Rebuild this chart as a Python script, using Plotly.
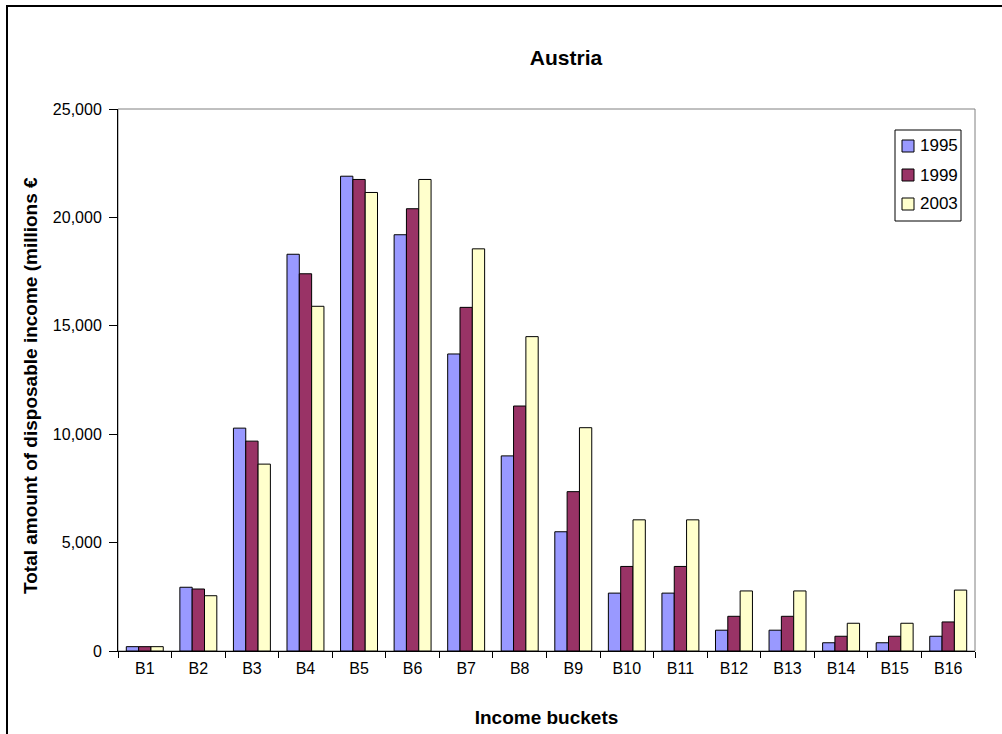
import plotly.graph_objects as go

categories = ["B1", "B2", "B3", "B4", "B5", "B6", "B7", "B8",
              "B9", "B10", "B11", "B12", "B13", "B14", "B15", "B16"]
v1995 = [200, 2940, 10280, 18300, 21900, 19200, 13700, 9000,
         5500, 2670, 2670, 960, 960, 380, 380, 680]
v1999 = [200, 2860, 9680, 17400, 21750, 20400, 15850, 11300,
         7350, 3900, 3900, 1600, 1600, 680, 680, 1340]
v2003 = [200, 2550, 8620, 15900, 21150, 21750, 18550, 14500,
         10300, 6050, 6050, 2770, 2770, 1280, 1280, 2810]
series = [("1995", v1995, "#9999FF"), ("1999", v1999, "#993366"), ("2003", v2003, "#FFFFCC")]

FONT = "Liberation Sans, Arial, sans-serif"

fig = go.Figure()
for name, vals, col in series:
    fig.add_trace(go.Bar(x=categories, y=vals, name=name, showlegend=False,
                         marker=dict(color=col, line=dict(color="black", width=1))))

L, R, T, B = 118, 27, 109, 83
W, H = 1002, 734
pw, ph = W - L - R, H - T - B

def px(x):
    return (x - L) / pw

def py(y):
    return (H - B - y) / ph

shapes = [
    dict(type="rect", xref="paper", yref="paper", x0=0, x1=1, y0=0, y1=1,
         line=dict(color="#808080", width=1), layer="below"),
    dict(type="rect", xref="paper", yref="paper", x0=px(7), x1=px(1010),
         y0=py(745), y1=py(6), line=dict(color="black", width=2), layer="below"),
    # legend box
    dict(type="rect", xref="paper", yref="paper", x0=px(895), x1=px(961),
         y0=py(221), y1=py(130), line=dict(color="black", width=1),
         fillcolor="white", layer="above"),
]
annotations = [
    dict(text="<b>Total amount of disposable income (millions €</b>",
         textangle=-90, xref="paper", yref="paper", x=px(30), y=py(386),
         xanchor="center", yanchor="middle", showarrow=False,
         font=dict(size=19, family=FONT)),
]
for i, (name, vals, col) in enumerate(series):
    yc = 146 + 29 * i
    shapes.append(dict(type="rect", xref="paper", yref="paper",
                       x0=px(902), x1=px(914), y0=py(yc + 6), y1=py(yc - 6),
                       line=dict(color="black", width=1), fillcolor=col, layer="above"))
    annotations.append(dict(text=name, xref="paper", yref="paper", x=px(918), y=py(yc),
                            xanchor="left", yanchor="middle", showarrow=False,
                            font=dict(size=17, family=FONT)))

fig.update_layout(
    width=W, height=H,
    margin=dict(l=L, r=R, t=T, b=B, autoexpand=False),
    paper_bgcolor="white", plot_bgcolor="white",
    font=dict(family=FONT, color="black"),
    barmode="group", bargap=0.31, bargroupgap=0,
    showlegend=False,
    title=dict(text="<b>Austria</b>", xref="container", x=566 / W, xanchor="center",
               yref="container", y=1 - 58 / H, yanchor="middle",
               font=dict(size=21, family=FONT)),
    xaxis=dict(type="category", tickson="boundaries", ticks="outside", ticklen=6,
               tickcolor="black", showline=True, linecolor="black", linewidth=1,
               showgrid=False, tickfont=dict(size=16, family=FONT),
               ticklabelstandoff=3,
               title=dict(text="<b>Income buckets</b>", font=dict(size=19, family=FONT),
                          standoff=34)),
    yaxis=dict(range=[0, 25000], dtick=5000, tickformat=",", ticks="outside", ticklen=8,
               tickcolor="black", showline=True, linecolor="black", linewidth=1,
               showgrid=False, zeroline=False, tickfont=dict(size=16, family=FONT),
               ticklabelstandoff=4),
    shapes=shapes,
    annotations=annotations,
)

fig.write_html("out.html")
